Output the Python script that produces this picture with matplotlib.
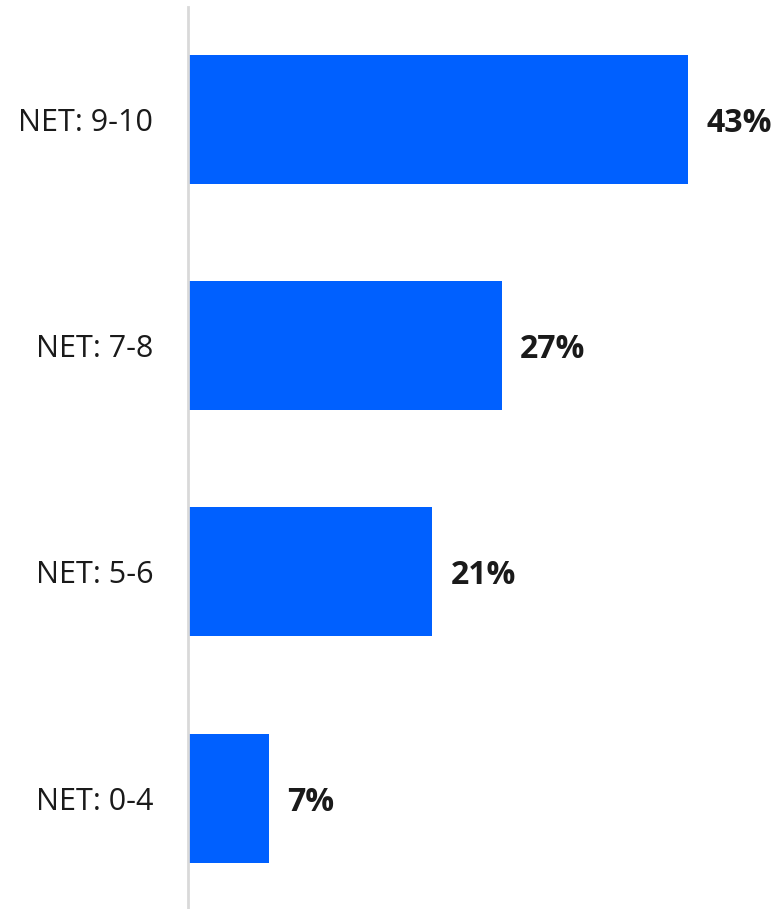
import matplotlib.pyplot as plt

categories = ["NET: 9-10", "NET: 7-8", "NET: 5-6", "NET: 0-4"]
values = [43, 27, 21, 7]

BAR_COLOR = "#0060ff"
TEXT_COLOR = "#1a1a1a"

plt.rcParams["font.family"] = ["Open Sans", "DejaVu Sans"]

fig = plt.figure(figsize=(7.78, 9.09), dpi=100)
ax = fig.add_axes([188 / 778, 0, 590 / 778, 902 / 909])

positions = list(range(len(categories)))
ax.barh(positions, values, height=0.57, color=BAR_COLOR, zorder=2)

ax.set_xlim(0, 50.7)
ax.set_ylim(3.49, -0.497)

ax.set_yticks(positions)
ax.set_yticklabels(categories, fontsize=22, color=TEXT_COLOR)
ax.tick_params(axis="y", length=0, pad=25)
ax.set_xticks([])

for side in ("top", "right", "bottom"):
    ax.spines[side].set_visible(False)
ax.spines["left"].set_color("#d9d9d9")
ax.spines["left"].set_linewidth(2)

# value labels just past the end of each bar
for pos, val in zip(positions, values):
    ax.annotate(f"{val}%", xy=(val, pos), xytext=(18, -4),
                textcoords="offset pixels", va="center", ha="left",
                fontsize=23, fontweight="bold", color=TEXT_COLOR)

fig.savefig("out.png", dpi=100)
